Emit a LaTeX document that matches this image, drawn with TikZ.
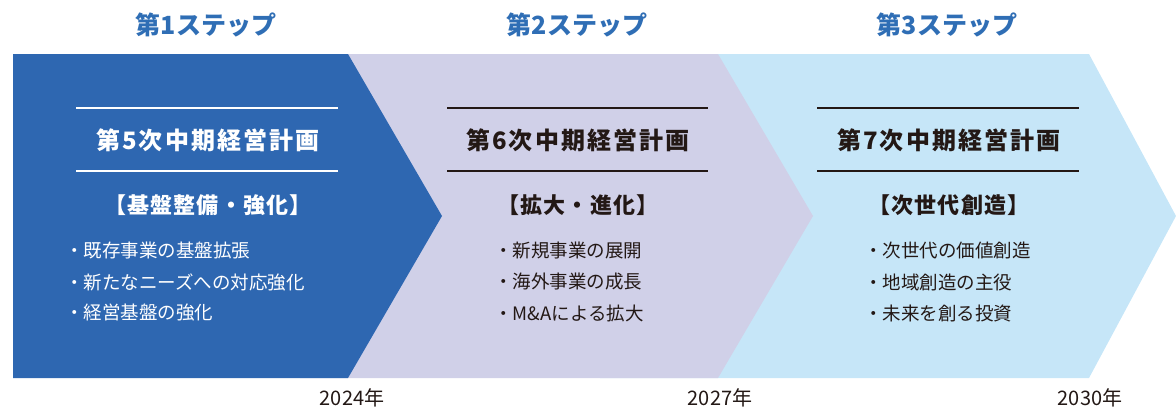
\documentclass[tikz,border=0pt]{standalone}
\usepackage{fontspec}
\setmainfont{Noto Sans CJK JP}
\definecolor{cblue}{HTML}{2E67B1}
\definecolor{clav}{HTML}{D0D0E8}
\definecolor{clight}{HTML}{C6E6F8}
\definecolor{cstep}{HTML}{2F6EB5}
\definecolor{cdark}{HTML}{231815}
\tikzset{
  steplabel/.style={text=cstep, font=\fontsize{25}{28}\selectfont\bfseries, inner sep=0pt},
  plantitle/.style={font=\fontsize{24}{28}\selectfont\bfseries\addfontfeature{LetterSpace=9}, inner sep=0pt},
  planhead/.style={font=\fontsize{22}{24}\selectfont\bfseries\addfontfeature{LetterSpace=5}, inner sep=0pt},
  bullet/.style={font=\fontsize{18.5}{20}\selectfont, inner sep=0pt, anchor=west},
  yearlabel/.style={text=cdark, font=\fontsize{20}{22}\selectfont, inner sep=0pt},
  rule/.style={line width=1.5pt}
}
\begin{document}
\begin{tikzpicture}[x=1pt,y=-1pt]
\useasboundingbox (0,0) rectangle (1176,408);
% chevrons
\fill[clight] (600,54) -- (1089,54) -- (1176,216) -- (1089,378) -- (600,378) -- cycle;
\fill[clav] (300,54) -- (718,54) -- (813,216) -- (718,378) -- (300,378) -- cycle;
\fill[cblue] (13,54) -- (348,54) -- (442,216) -- (348,378) -- (13,378) -- cycle;
% step labels
\node[steplabel] (s1) at (206,25) {第1ステップ};
\node[steplabel] (s2) at (577,25) {第2ステップ};
\node[steplabel] (s3) at (947,25) {第3ステップ};
% block 1
\draw[rule, white] (76,108) -- (338,108);
\draw[rule, white] (76,171) -- (338,171);
\node[plantitle, text=white] (t1) at (208,140) {第5次中期経営計画};
\node[planhead, text=white] (h1) at (208,205) {【基盤整備・強化】};
\node[bullet, text=white] (b11) at (65,250) {・既存事業の基盤拡張};
\node[bullet, text=white] (b12) at (65,282) {・新たなニーズへの対応強化};
\node[bullet, text=white] (b13) at (65,313) {・経営基盤の強化};
% block 2
\draw[rule, cdark] (447,108) -- (708,108);
\draw[rule, cdark] (447,171) -- (708,171);
\node[plantitle, text=cdark] (t2) at (578,140) {第6次中期経営計画};
\node[planhead, text=cdark] (h2) at (578,205) {【拡大・進化】};
\node[bullet, text=cdark] (b21) at (494,250) {・新規事業の展開};
\node[bullet, text=cdark] (b22) at (494,282) {・海外事業の成長};
\node[bullet, text=cdark] (b23) at (494,313) {・M\&Aによる拡大};
% block 3
\draw[rule, cdark] (817,108) -- (1079,108);
\draw[rule, cdark] (817,171) -- (1079,171);
\node[plantitle, text=cdark] (t3) at (949,140) {第7次中期経営計画};
\node[planhead, text=cdark] (h3) at (949,205) {【次世代創造】};
\node[bullet, text=cdark] (b31) at (864,250) {・次世代の価値創造};
\node[bullet, text=cdark] (b32) at (864,282) {・地域創造の主役};
\node[bullet, text=cdark] (b33) at (864,313) {・未来を創る投資};
% years
\node[yearlabel] (y1) at (352,398) {2024年};
\node[yearlabel] (y2) at (720,398) {2027年};
\node[yearlabel] (y3) at (1090,398) {2030年};
\end{tikzpicture}
\end{document}
